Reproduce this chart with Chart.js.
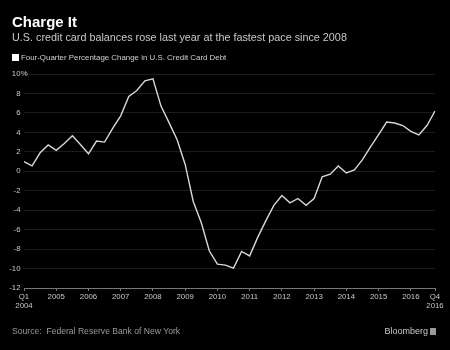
<!DOCTYPE html>
<html>
<head>
<meta charset="utf-8">
<script src="https://cdn.jsdelivr.net/npm/chart.js@4.4.1/dist/chart.umd.min.js"></script>
<style>
  body { margin: 0; background: #000; }
  #wrap { position: relative; width: 450px; height: 350px; background: #000; font-family: "Liberation Sans", Arial, sans-serif; overflow: hidden; }
  #title { position: absolute; left: 12px; top: 13px; font-size: 15px; font-weight: bold; color: #fff; }
  #sub { position: absolute; left: 12px; top: 31px; font-size: 10.8px; color: #c8c8c8; }
  #legend { position: absolute; left: 12px; top: 53px; font-size: 7.9px; color: #d0d0d0; }
  #legend span { display: inline-block; width: 7px; height: 7px; background: #fff; vertical-align: -1px; margin-right: 2px; }
  #source { position: absolute; left: 12px; top: 326px; font-size: 8.6px; color: #9a9a9a; }
  #bbg { position: absolute; right: 22px; top: 326px; font-size: 9px; color: #c8c8c8; }
  #bbg i { position: absolute; right: -8px; top: 2px; width: 6px; height: 7px; background: #999; }
  canvas { position: absolute; left: 0; top: 0; }
</style>
</head>
<body>
<div id="wrap">
  <canvas id="myChart" width="450" height="350"></canvas>
  <div id="title">Charge It</div>
  <div id="sub">U.S. credit card balances rose last year at the fastest pace since 2008</div>
  <div id="legend"><span></span>Four-Quarter Percentage Change in U.S. Credit Card Debt</div>
  <div id="source">Source:&nbsp; Federal Reserve Bank of New York</div>
  <div id="bbg">Bloomberg<i></i></div>
</div>
<script>
// quarterly, Q1 2004 .. Q4 2016
var quarters = [];
for (var yr = 2004; yr <= 2016; yr++) {
  for (var q = 1; q <= 4; q++) quarters.push('Q' + q + ' ' + yr);
}

var change = [1.0, 0.55, 1.9, 2.7, 2.15, 2.85, 3.65, 2.75,
              1.8, 3.1, 3.0, 4.4, 5.7, 7.7, 8.3, 9.3,
              9.5, 6.7, 5.0, 3.25, 0.7, -3.1, -5.3, -8.2,
              -9.55, -9.65, -9.95, -8.24, -8.7, -6.8, -5.1, -3.5,
              -2.5, -3.25, -2.8, -3.5, -2.8, -0.57, -0.3, 0.55,
              -0.17, 0.14, 1.2, 2.5, 3.76, 5.06, 4.96, 4.7,
              4.1, 3.73, 4.7, 6.2];

var yTicks = [10, 8, 6, 4, 2, 0, -2, -4, -6, -8, -10, -12];

var pctPlugin = {
  id: 'pct',
  afterDraw: function(chart) {
    var c = chart.ctx, y = chart.scales.y;
    c.save();
    c.font = '7.8px "Liberation Sans", Arial, sans-serif';
    c.fillStyle = '#c8c8c8';
    c.textBaseline = 'middle';
    c.fillText('%', 20.8, y.getPixelForValue(10));
    c.restore();
  }
};

var ctx = document.getElementById('myChart').getContext('2d');
var myChart = new Chart(ctx, {
  type: 'line',
  data: {
    labels: quarters,
    datasets: [{
      data: change,
      borderColor: '#d8d8d8',
      borderWidth: 1.4,
      pointRadius: 0,
      tension: 0,
      fill: false
    }]
  },
  options: {
    responsive: false,
    animation: false,
    layout: { padding: { left: 0, right: 15, top: 74, bottom: 0 } },
    plugins: { legend: { display: false }, tooltip: { enabled: false } },
    scales: {
      x: {
        offset: false,
        afterFit: function(s) { s.height = 62; },
        grid: { drawOnChartArea: false, drawTicks: true, tickLength: 3, tickColor: '#777' },
        border: { color: '#777', width: 1 },
        ticks: {
          autoSkip: false, maxRotation: 0, padding: 1,
          color: '#c8c8c8',
          font: { family: '"Liberation Sans", Arial, sans-serif', size: 7.8, lineHeight: 1.15 },
          callback: function(v, i) {
            if (i === 0) return ['Q1', '2004'];
            if (i === quarters.length - 1) return ['Q4', '2016'];
            if (i % 4 === 0) return String(2004 + i / 4);
            return null;
          }
        }
      },
      y: {
        min: -12, max: 10,
        afterFit: function(s) { s.width = 24; },
        afterBuildTicks: function(s) { s.ticks = yTicks.map(function(v) { return { value: v }; }); },
        grid: { color: '#1c1c1c', drawTicks: false },
        border: { display: false },
        ticks: {
          padding: 3.5,
          color: '#c8c8c8',
          font: { family: '"Liberation Sans", Arial, sans-serif', size: 7.8 },
          callback: function(v) { return String(v); }
        }
      }
    }
  },
  plugins: [pctPlugin]
});
</script>
</body>
</html>
